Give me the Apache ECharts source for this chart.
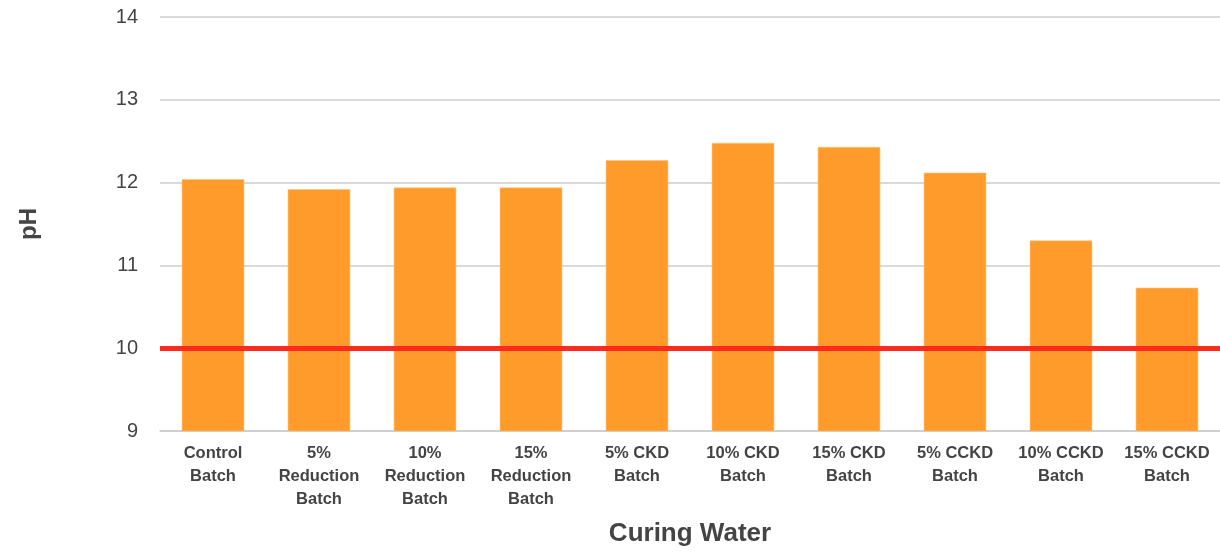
<!DOCTYPE html>
<html>
<head>
<meta charset="utf-8">
<script src="https://cdn.jsdelivr.net/npm/echarts@6/dist/echarts.min.js"></script>
<style>
  html, body { margin: 0; padding: 0; background: #fff; }
  #chart { width: 1220px; height: 552px; }
</style>
</head>
<body>
<div id="chart"></div>
<script>
// Curing water pH for each concrete batch
const categories = [
  'Control\nBatch',
  '5%\nReduction\nBatch',
  '10%\nReduction\nBatch',
  '15%\nReduction\nBatch',
  '5% CKD\nBatch',
  '10% CKD\nBatch',
  '15% CKD\nBatch',
  '5% CCKD\nBatch',
  '10% CCKD\nBatch',
  '15% CCKD\nBatch'
];
const phValues = [12.04, 11.92, 11.94, 11.94, 12.27, 12.48, 12.43, 12.12, 11.30, 10.73];
const thresholdPh = 10;
const yTicks = { min: 9, max: 14, interval: 1 };

const chart = echarts.init(document.getElementById('chart'));
const textColor = '#444';
const fontFamily = '"Liberation Sans", Arial, Helvetica, sans-serif';

chart.setOption({
  animation: false,
  textStyle: { fontFamily: fontFamily },
  grid: { left: 160, right: -1, top: 17, bottom: 121 },
  xAxis: {
    type: 'category',
    data: categories,
    name: 'Curing Water',
    nameLocation: 'middle',
    nameGap: 90,
    nameTextStyle: { fontSize: 26, fontWeight: 'bold', color: textColor, fontFamily: fontFamily },
    axisLine: { lineStyle: { color: '#cccccc', width: 1.5 } },
    axisTick: { show: false },
    axisLabel: {
      interval: 0,
      margin: 11,
      fontSize: 16.5,
      fontWeight: 'bold',
      lineHeight: 23,
      color: textColor,
      fontFamily: fontFamily
    }
  },
  yAxis: {
    type: 'value',
    min: yTicks.min,
    max: yTicks.max,
    interval: yTicks.interval,
    name: 'pH',
    nameLocation: 'middle',
    nameGap: 119,
    nameTextStyle: { fontSize: 24, fontWeight: 'bold', color: textColor, fontFamily: fontFamily },
    axisLine: { show: false },
    axisTick: { show: false },
    axisLabel: { margin: 22, fontSize: 20, color: textColor, fontFamily: fontFamily },
    splitLine: { lineStyle: { color: '#cccccc', width: 1.5 } }
  },
  series: [{
    type: 'bar',
    data: phValues,
    barWidth: '59%',
    itemStyle: { color: '#ff9b2b', borderColor: '#ffc27a', borderWidth: 0.6 },
    markLine: {
      silent: true,
      symbol: ['none', 'none'],
      label: { show: false },
      lineStyle: { color: '#ff2a1f', width: 5, type: 'solid' },
      data: [{ yAxis: thresholdPh }]
    }
  }]
});
</script>
</body>
</html>
